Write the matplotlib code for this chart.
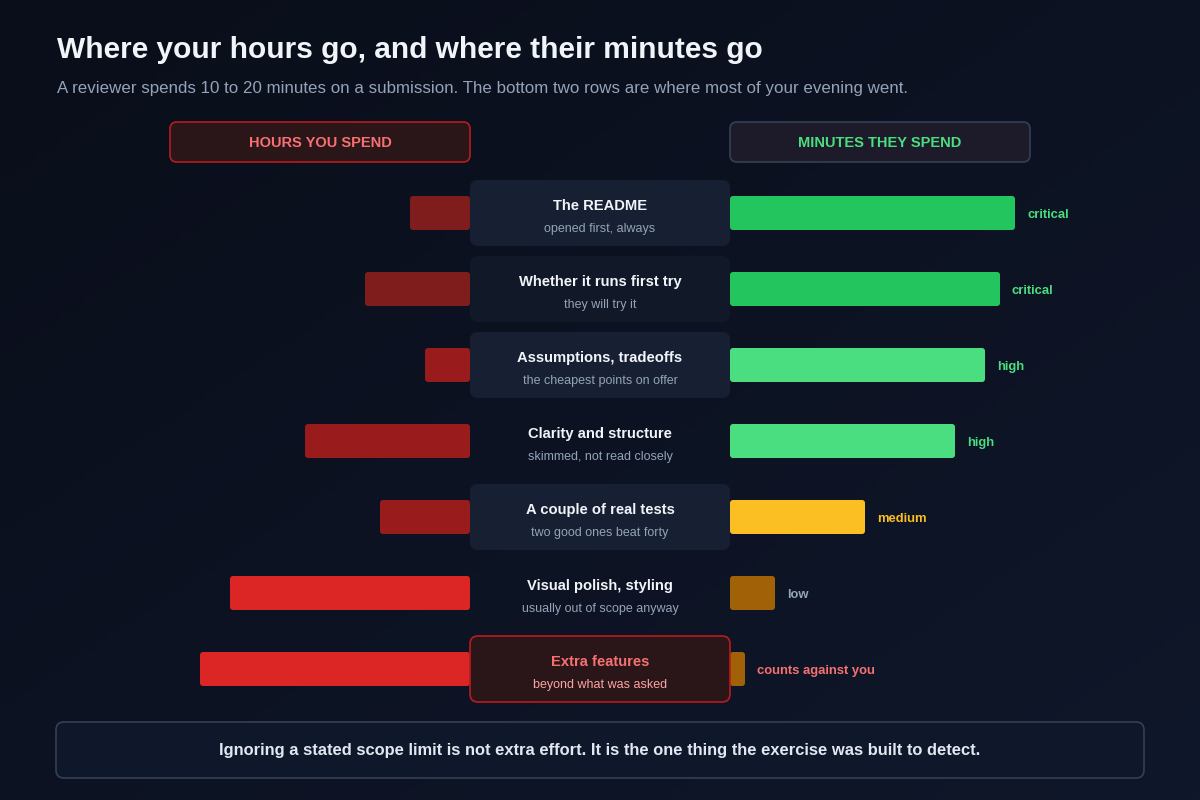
import numpy as np
import matplotlib.pyplot as plt
from matplotlib.patches import FancyBboxPatch

plt.rcParams['font.family'] = ['Liberation Sans', 'DejaVu Sans']

# data
topics = ["The README", "Whether it runs first try", "Assumptions, tradeoffs",
          "Clarity and structure", "A couple of real tests",
          "Visual polish, styling", "Extra features"]
notes = ["opened first, always", "they will try it", "the cheapest points on offer",
         "skimmed, not read closely", "two good ones beat forty",
         "usually out of scope anyway", "beyond what was asked"]
hours = [2, 3.5, 1.5, 5.5, 3, 8, 9]
minutes = [19, 18, 17, 15, 9, 3, 1]
levels = ["critical", "critical", "high", "high", "medium", "low", "counts against you"]

hour_colors = ["#7f1d1d", "#7f1d1d", "#991b1b", "#991b1b", "#991b1b", "#dc2626", "#dc2626"]
min_colors = {"critical": "#22c55e", "high": "#4ade80", "medium": "#fbbf24",
              "low": "#a16207", "counts against you": "#a16207"}
lvl_text = {"critical": "#4ade80", "high": "#4ade80", "medium": "#fbbf24",
            "low": "#94a3b8", "counts against you": "#f87171"}

fig = plt.figure(figsize=(12, 8), dpi=100)
ax = fig.add_axes([0, 0, 1, 1])
ax.set_xlim(0, 1200)
ax.set_ylim(800, 0)
ax.axis("off")

# background gradient
gx, gy = np.meshgrid(np.linspace(0, 1, 200), np.linspace(0, 1, 140))
g = (gx + gy) / 2
c0 = np.array([0x0a, 0x0e, 0x1a]) / 255
c1 = np.array([0x0f, 0x17, 0x2a]) / 255
bg = c0[None, None, :] * (1 - g[..., None]) + c1[None, None, :] * g[..., None]
ax.imshow(bg, extent=[0, 1200, 800, 0], aspect="auto", zorder=0)

ax.text(57, 50, "Where your hours go, and where their minutes go", fontsize=21.5,
        fontweight="bold", color="#f1f5f9", va="center", ha="left")
ax.text(57, 89, "A reviewer spends 10 to 20 minutes on a submission. The bottom two rows "
        "are where most of your evening went.", fontsize=12.2, color="#94a3b8",
        va="center", ha="left")


def rbox(x, y, w, h, fc, ec="none", lw=0, r=6, z=2):
    p = FancyBboxPatch((x, y), w, h, boxstyle=f"round,pad=0,rounding_size={r}",
                       fc=fc, ec=ec, lw=lw, zorder=z)
    ax.add_patch(p)


# column headers
rbox(170, 122, 300, 40, "#2a1519", "#b91c1c", 1.2, r=7)
ax.text(320, 143, "HOURS YOU SPEND", fontsize=10.5, fontweight="bold",
        color="#f87171", ha="center", va="center", zorder=3)
rbox(730, 122, 300, 40, "#1d1a2a", "#334155", 1.2, r=7)
ax.text(880, 143, "MINUTES THEY SPEND", fontsize=10.5, fontweight="bold",
        color="#4ade80", ha="center", va="center", zorder=3)

px_hour = 30
px_min = 15
y0 = 213
step = 76
bh = 34
cx0, cx1 = 470, 730
box_fill = ["#172033", "#111827", "#172033", None, "#172033", None, "#2a1519"]

for i in range(len(topics)):
    yc = y0 + i * step
    # label box
    if box_fill[i] is not None:
        if i == len(topics) - 1:
            rbox(cx0, yc - 33, cx1 - cx0, 66, box_fill[i], "#b91c1c", 1.2, r=8, z=3)
        else:
            rbox(cx0, yc - 33, cx1 - cx0, 66, box_fill[i], r=8, z=3)
    last = i == len(topics) - 1
    ax.text(600, yc - 7, topics[i], fontsize=10.6, fontweight="bold",
            color="#f87171" if last else "#f1f5f9", ha="center", va="center", zorder=4)
    ax.text(600, yc + 16, notes[i], fontsize=9,
            color="#fca5a5" if last else "#94a3b8", ha="center", va="center", zorder=4)

    # hours bar (left)
    w = hours[i] * px_hour
    rbox(cx0 - w, yc - bh / 2, w, bh, hour_colors[i], r=3)

    # minutes bar (right)
    w = minutes[i] * px_min
    rbox(cx1, yc - bh / 2, w, bh, min_colors[levels[i]], r=3)
    ax.text(cx1 + w + 12, yc + 2, levels[i], fontsize=9.4, fontweight="bold",
            color=lvl_text[levels[i]], ha="left", va="center", zorder=4)

# footer
rbox(56, 722, 1088, 56, "#0f172a", "#334155", 1.2, r=8)
ax.text(600, 750, "Ignoring a stated scope limit is not extra effort. It is the one thing "
        "the exercise was built to detect.", fontsize=11.9, fontweight="bold",
        color="#e2e8f0", ha="center", va="center", zorder=4)

plt.savefig("out.png", dpi=100, facecolor="#0b1020")
